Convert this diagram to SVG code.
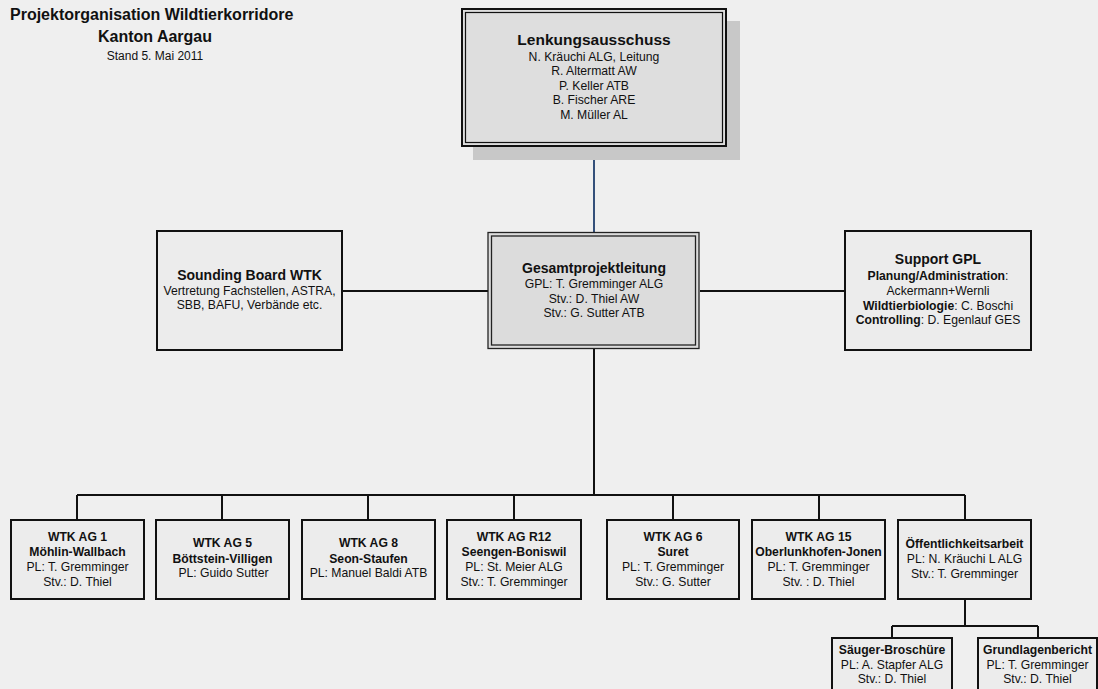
<svg xmlns="http://www.w3.org/2000/svg" width="1098" height="689" viewBox="0 0 1098 689">
<style>
text{font-family:"Liberation Sans",Arial,sans-serif;fill:#111;text-anchor:middle}
.t{font-size:16px;font-weight:bold}
.s{font-size:12px}
.h{font-size:14px;font-weight:bold}
.b{font-size:12.2px;font-weight:bold}
.r{font-size:12.2px}
.box{fill:#ececec;stroke:#111;stroke-width:2}
.dbl{fill:#dcdcdc;stroke:#222;stroke-width:1.3}
.ln{fill:none;stroke:#111;stroke-width:2}
</style>
<rect x="0" y="0" width="1098" height="689" fill="#efefef"/>
<g id="title">
<text class="t" x="10" y="20" style="text-anchor:start">Projektorganisation Wildtierkorridore</text>
<text class="t" x="155" y="42">Kanton Aargau</text>
<text class="s" x="155" y="60">Stand 5. Mai 2011</text>
</g>
<g id="connectors">
<line x1="594" y1="147" x2="594" y2="232" stroke="#34507a" stroke-width="2"/>
<line class="ln" x1="342" y1="291" x2="488" y2="291"/>
<line class="ln" x1="700" y1="291" x2="845" y2="291"/>
<polyline class="ln" points="594,349 594,495"/>
<line class="ln" x1="77" y1="495" x2="965" y2="495"/>
<line class="ln" x1="77" y1="495" x2="77" y2="520"/>
<line class="ln" x1="222" y1="495" x2="222" y2="520"/>
<line class="ln" x1="368" y1="495" x2="368" y2="520"/>
<line class="ln" x1="514" y1="495" x2="514" y2="520"/>
<line class="ln" x1="673" y1="495" x2="673" y2="520"/>
<line class="ln" x1="819" y1="495" x2="819" y2="520"/>
<line class="ln" x1="965" y1="495" x2="965" y2="520"/>
<line class="ln" x1="965" y1="599" x2="965" y2="626"/>
<line class="ln" x1="892" y1="626" x2="1038" y2="626"/>
<line class="ln" x1="892" y1="626" x2="892" y2="638"/>
<line class="ln" x1="1038" y1="626" x2="1038" y2="638"/>
</g>
<g id="lenkungsausschuss">
<rect x="473" y="21" width="267" height="139" fill="#c8c8c8"/>
<rect x="462" y="9" width="264" height="137" fill="#dedede" stroke="#111" stroke-width="2"/>
<rect x="465.5" y="12.5" width="257" height="130" fill="none" stroke="#111" stroke-width="1.2"/>
<text x="594" y="45" style="font-size:15.5px;font-weight:bold">Lenkungsausschuss</text>
<text class="r" x="594" y="60.5">N. Kräuchi ALG, Leitung</text>
<text class="r" x="594" y="75">R. Altermatt AW</text>
<text class="r" x="594" y="89.5">P. Keller ATB</text>
<text class="r" x="594" y="104">B. Fischer ARE</text>
<text class="r" x="594" y="118.5">M. Müller AL</text>
</g>
<g id="gesamtprojektleitung">
<rect class="dbl" x="488" y="232.5" width="211" height="116"/>
<rect x="491.5" y="236" width="204" height="109" fill="none" stroke="#222" stroke-width="1.3"/>
<text class="h" x="594" y="273">Gesamtprojektleitung</text>
<text class="r" x="594" y="288">GPL: T. Gremminger ALG</text>
<text class="r" x="594" y="302.5">Stv.: D. Thiel AW</text>
<text class="r" x="594" y="317">Stv.: G. Sutter ATB</text>
</g>
<g id="sounding-board">
<rect class="box" x="157" y="231" width="185" height="119"/>
<text class="h" x="249.5" y="280">Sounding Board WTK</text>
<text class="r" x="249.5" y="295">Vertretung Fachstellen, ASTRA,</text>
<text class="r" x="249.5" y="309">SBB, BAFU, Verbände etc.</text>
</g>
<g id="support-gpl">
<rect class="box" x="845" y="231" width="186" height="119"/>
<text class="h" x="938" y="264">Support GPL</text>
<text class="r" x="938" y="280"><tspan font-weight="bold">Planung/Administration</tspan>:</text>
<text class="r" x="938" y="295">Ackermann+Wernli</text>
<text class="r" x="938" y="309.5"><tspan font-weight="bold">Wildtierbiologie</tspan>: C. Boschi</text>
<text class="r" x="938" y="324"><tspan font-weight="bold">Controlling</tspan>: D. Egenlauf GES</text>
</g>
<g id="ag1">
<rect class="box" x="11" y="520" width="133" height="79"/>
<text class="b" x="77.5" y="541">WTK AG 1</text>
<text class="b" x="77.5" y="556">Möhlin-Wallbach</text>
<text class="r" x="77.5" y="571">PL: T. Gremminger</text>
<text class="r" x="77.5" y="586">Stv.: D. Thiel</text>
</g>
<g id="ag5">
<rect class="box" x="156" y="520" width="133" height="79"/>
<text class="b" x="222.5" y="547">WTK AG 5</text>
<text class="b" x="222.5" y="563">Böttstein-Villigen</text>
<text class="r" x="223.5" y="577">PL: Guido Sutter</text>
</g>
<g id="ag8">
<rect class="box" x="302" y="520" width="133" height="79"/>
<text class="b" x="368.5" y="547">WTK AG 8</text>
<text class="b" x="368.5" y="563">Seon-Staufen</text>
<text class="r" x="368.5" y="577">PL: Manuel Baldi ATB</text>
</g>
<g id="agr12">
<rect class="box" x="447" y="520" width="134" height="79"/>
<text class="b" x="514" y="541">WTK AG R12</text>
<text class="b" x="514" y="556">Seengen-Boniswil</text>
<text class="r" x="514" y="571">PL: St. Meier ALG</text>
<text class="r" x="514" y="586">Stv.: T. Gremminger</text>
</g>
<g id="ag6">
<rect class="box" x="607" y="520" width="132" height="79"/>
<text class="b" x="673" y="541">WTK AG 6</text>
<text class="b" x="673" y="556">Suret</text>
<text class="r" x="673" y="571">PL: T. Gremminger</text>
<text class="r" x="673" y="586">Stv.: G. Sutter</text>
</g>
<g id="ag15">
<rect class="box" x="752" y="520" width="133" height="79"/>
<text class="b" x="818.5" y="541">WTK AG 15</text>
<text class="b" x="818.5" y="556">Oberlunkhofen-Jonen</text>
<text class="r" x="818.5" y="571">PL: T. Gremminger</text>
<text class="r" x="818.5" y="586">Stv. : D. Thiel</text>
</g>
<g id="oeffentlichkeitsarbeit">
<rect class="box" x="898" y="520" width="133" height="79"/>
<text class="b" x="964.5" y="547.5">Öffentlichkeitsarbeit</text>
<text class="r" x="964.5" y="563">PL: N. Kräuchi L ALG</text>
<text class="r" x="964.5" y="577.5">Stv.: T. Gremminger</text>
</g>
<g id="saeuger-broschuere">
<rect class="box" x="832" y="638" width="120" height="60"/>
<text class="b" x="892" y="654">Säuger-Broschüre</text>
<text class="r" x="892" y="668.5">PL: A. Stapfer ALG</text>
<text class="r" x="892" y="683">Stv.: D. Thiel</text>
</g>
<g id="grundlagenbericht">
<rect class="box" x="978" y="638" width="119" height="60"/>
<text class="b" x="1037.5" y="654">Grundlagenbericht</text>
<text class="r" x="1037.5" y="668.5">PL: T. Gremminger</text>
<text class="r" x="1037.5" y="683">Stv.: D. Thiel</text>
</g>
</svg>
